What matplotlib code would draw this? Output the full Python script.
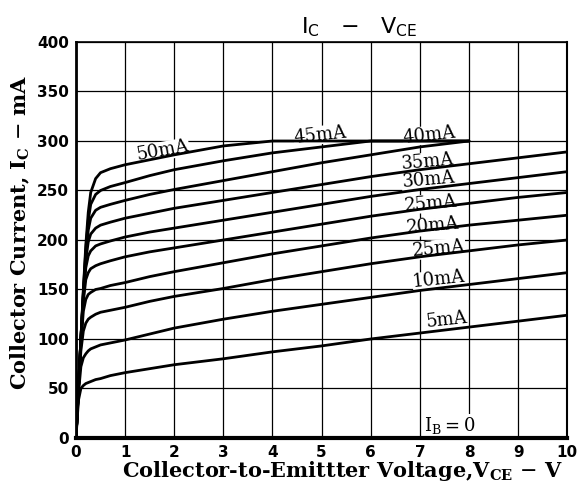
import numpy as np
import matplotlib.pyplot as plt

# collector-emitter voltage sample points (V)
vce = [0, 0.05, 0.1, 0.15, 0.2, 0.25, 0.3, 0.4, 0.5, 0.7, 1, 1.5, 2, 3, 4, 5, 6, 7, 8, 9, 10]

# collector current (mA) for each base current
ic_5 = [0, 38, 50, 53, 55, 56, 57, 59, 60, 63, 66, 70, 74, 80, 87, 93, 100, 106, 112, 118, 124]
ic_10 = [0, 45, 72, 81, 85, 88, 90, 92, 94, 96, 99, 105, 111, 120, 128, 135, 142, 149, 155, 161, 167]
ic_15 = [0, 48, 88, 108, 116, 120, 122, 125, 127, 129, 132, 138, 143, 151, 160, 168, 176, 183, 189, 195, 200]
ic_20 = [0, 50, 95, 128, 140, 145, 147, 150, 151, 154, 157, 163, 168, 177, 186, 194, 202, 209, 215, 220, 225]
ic_25 = [0, 50, 98, 138, 160, 167, 171, 174, 176, 179, 183, 188, 192, 200, 208, 216, 224, 231, 237, 243, 248]
ic_30 = [0, 50, 100, 142, 172, 184, 189, 194, 196, 199, 203, 208, 212, 220, 228, 236, 244, 251, 257, 263, 269]
ic_35 = [0, 50, 100, 144, 180, 198, 206, 212, 215, 218, 222, 227, 232, 240, 248, 256, 264, 271, 277, 283, 289]
ic_40 = [0, 50, 100, 146, 185, 210, 222, 230, 233, 236, 240, 246, 251, 260, 269, 278, 286, 294, 300, None, None]
ic_45 = [0, 50, 100, 148, 190, 220, 236, 246, 250, 254, 258, 265, 271, 280, 288, 294, 300, 300, 300, None, None]
ic_50 = [0, 50, 100, 150, 195, 228, 248, 262, 268, 272, 276, 281, 286, 295, 300, 300, 300, 300, 300, None, None]

curves = [ic_5, ic_10, ic_15, ic_20, ic_25, ic_30, ic_35, ic_40, ic_45, ic_50]

# curve labels as printed (the 15mA curve is printed as "25mA" in the original)
label_text = ["5mA", "10mA", "25mA", "20mA", "25mA", "30mA", "35mA", "40mA", "45mA", "50mA"]
label_x = [7.54, 7.39, 7.39, 7.27, 7.23, 7.17, 7.15, 7.19, 4.97, 1.77]
label_y = [119, 160, 191, 214, 237, 261, 279, 306, 306, 290]
label_rot = [6, 6, 5, 5, 5, 5, 5, 6, 6, 10]

x_ticks = list(range(0, 11))
y_ticks = list(range(0, 401, 50))

fig = plt.figure(figsize=(5.8, 4.86), dpi=100)
ax = fig.add_axes([0.131, 0.0988, 0.847, 0.8148])

for ic in curves:
    ax.plot(vce, np.array(ic, dtype=float), color="black", lw=2.0,
            solid_capstyle="round", solid_joinstyle="round", zorder=3)

for txt, lx, ly, rot in zip(label_text, label_x, label_y, label_rot):
    ax.text(lx, ly, txt, fontfamily="DejaVu Serif", fontsize=13, rotation=rot,
            ha="center", va="center", zorder=2.5,
            bbox=dict(facecolor="white", edgecolor="none", pad=0.1))

ax.text(7.6, 13, r"I$_\mathregular{B}$$=$0", fontfamily="DejaVu Serif", fontsize=13,
        ha="center", va="center", zorder=2.5,
        bbox=dict(facecolor="white", edgecolor="none", pad=0.1))

ax.set_xlim(0, 10)
ax.set_ylim(0, 400)
ax.set_xticks(x_ticks)
ax.set_yticks(y_ticks)
ax.grid(True, color="black", lw=0.9, zorder=1)
ax.tick_params(length=0, pad=5, labelsize=11)
for lab in ax.get_xticklabels() + ax.get_yticklabels():
    lab.set_fontweight("bold")

ax.spines["bottom"].set_linewidth(3)
ax.spines["left"].set_linewidth(2)
ax.spines["top"].set_linewidth(1.2)
ax.spines["right"].set_linewidth(1.5)

ax.set_xlabel(r"Collector-to-Emittter Voltage,V$_\mathregular{CE}$ $-$ V",
              fontfamily="DejaVu Serif", fontweight="bold", fontsize=15)
ax.set_ylabel(r"Collector Current, I$_\mathregular{C}$ $-$ mA",
              fontfamily="DejaVu Serif", fontweight="bold", fontsize=15)
ax.xaxis.set_label_coords(0.542, -0.052)
ax.yaxis.set_label_coords(-0.09, 0.52)

fig.text(0.62, 0.945, r"I$_\mathregular{C}$   $-$   V$_\mathregular{CE}$",
         fontsize=16, ha="center", va="center")

fig.savefig("out.png", dpi=100)
